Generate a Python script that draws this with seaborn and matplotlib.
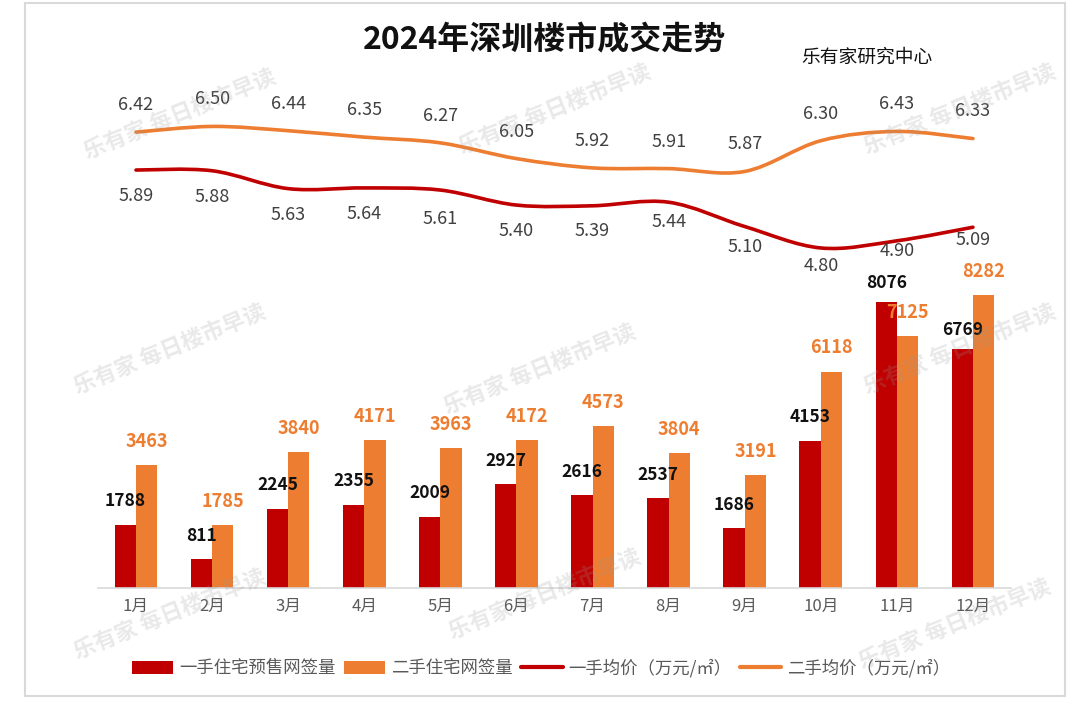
import numpy as np
import pandas as pd
import matplotlib
matplotlib.use("Agg")
import matplotlib.pyplot as plt
import seaborn as sns
from matplotlib.path import Path
from matplotlib.patches import PathPatch, Patch, Rectangle
from matplotlib.lines import Line2D

# ---------------- data ----------------
months = ['1月', '2月', '3月', '4月', '5月', '6月', '7月', '8月', '9月', '10月', '11月', '12月']
new_sales = [1788, 811, 2245, 2355, 2009, 2927, 2616, 2537, 1686, 4153, 8076, 6769]
resale_sales = [3463, 1785, 3840, 4171, 3963, 4172, 4573, 3804, 3191, 6118, 7125, 8282]
new_price = [5.89, 5.88, 5.63, 5.64, 5.61, 5.40, 5.39, 5.44, 5.10, 4.80, 4.90, 5.09]
resale_price = [6.42, 6.50, 6.44, 6.35, 6.27, 6.05, 5.92, 5.91, 5.87, 6.30, 6.43, 6.33]

bar_names = ['一手住宅预售网签量', '二手住宅网签量']
line_names = ['一手均价（万元/㎡）', '二手均价（万元/㎡）']
title = '2024年深圳楼市成交走势'
source = '乐有家研究中心'
watermark = '乐有家 每日楼市早读'

# label placement (style, in points)
new_price_lbl_off = [-19, -19, -19, -19, -21, -19, -18, -14, -15, -13, -7, -9]
new_sales_lbl_off = [17, 17, 17, 17, 17, 17, 17, 17, 17, 17, 14, 13]

RED = '#c00000'
ORANGE = '#ed7d31'

sns.set_theme(style='white')
plt.rcParams['font.family'] = ['Noto Sans CJK SC', 'DejaVu Sans']

df = pd.DataFrame({
    'month': months * 2,
    'series': [bar_names[0]] * 12 + [bar_names[1]] * 12,
    'value': new_sales + resale_sales,
})

fig = plt.figure(figsize=(10.8, 7.1), dpi=100)
fig.patch.set_facecolor('white')

ax = fig.add_axes([0.0907, 0.1718, 0.8454, 0.7296])
sns.barplot(data=df, x='month', y='value', hue='series', order=months,
            hue_order=bar_names, palette=[RED, ORANGE], width=0.56,
            saturation=1, legend=False, linewidth=0, ax=ax)
ax.set_xlim(-0.5, 11.5)
ax.set_ylim(0, 14641)
ax.set_xlabel('')
ax.set_ylabel('')
ax.set_yticks([])
for s in ['top', 'right', 'left']:
    ax.spines[s].set_visible(False)
ax.spines['bottom'].set_color('#d9d9d9')
ax.spines['bottom'].set_linewidth(1.2)
ax.tick_params(axis='x', which='major', length=0, pad=7, labelsize=12, labelcolor='#595959')
ax.set_xticks(np.arange(-0.5, 12, 1), minor=True)
ax.tick_params(axis='x', which='minor', length=5, width=1, color='#d9d9d9')

# bar labels
red_bars, orange_bars = ax.containers[0], ax.containers[1]
for bar, off in zip(red_bars, new_sales_lbl_off):
    h = bar.get_height()
    ax.annotate(f'{int(round(h))}', (bar.get_x() + bar.get_width() / 2, h),
                xytext=(0, off), textcoords='offset points', ha='center', va='center',
                fontsize=12.5, fontweight='bold', color='#111111', zorder=6)
for bar in orange_bars:
    h = bar.get_height()
    ax.annotate(f'{int(round(h))}', (bar.get_x() + bar.get_width() / 2, h),
                xytext=(0, 17), textcoords='offset points', ha='center', va='center',
                fontsize=13, fontweight='bold', color=ORANGE, zorder=6)

# lines
ax2 = ax.twinx()
ax2.set_ylim(0.044, 7.289)
ax2.set_xlim(-0.5, 11.5)
ax2.set_yticks([])
ax2.grid(False)
for s in ['top', 'right', 'left', 'bottom']:
    ax2.spines[s].set_visible(False)


def smooth_path(xs, ys):
    pts = np.column_stack([xs, ys]).astype(float)
    n = len(pts)
    verts = [pts[0]]
    codes = [Path.MOVETO]
    for i in range(n - 1):
        p0 = pts[i - 1] if i > 0 else pts[i]
        p1 = pts[i]
        p2 = pts[i + 1]
        p3 = pts[i + 2] if i + 2 < n else pts[i + 1]
        c1 = p1 + (p2 - p0) / 6.0
        c2 = p2 - (p3 - p1) / 6.0
        verts += [c1, c2, p2]
        codes += [Path.CURVE4] * 3
    return Path(verts, codes)


xs = np.arange(len(months))
for vals, col, offs in [(new_price, RED, new_price_lbl_off),
                        (resale_price, ORANGE, [19.5] * len(resale_price))]:
    path = smooth_path(xs, vals)
    ax2.add_patch(PathPatch(path, fill=False, edgecolor=col, lw=2.6,
                            capstyle='round', joinstyle='round', zorder=4))
    for x, v, off in zip(xs, vals, offs):
        ax2.annotate(f'{v:.2f}', (x, v), xytext=(0, off), textcoords='offset points',
                     ha='center', va='center', fontsize=13, color='#404040', zorder=6)

# titles
fig.text(0.504, 0.9437, title, ha='center', va='center', fontsize=23,
         fontweight='bold', color='#111111')
fig.text(0.803, 0.9197, source, ha='center', va='center', fontsize=13.5, color='#111111')

# legend
handles = [Patch(facecolor=RED, edgecolor='none'),
           Patch(facecolor=ORANGE, edgecolor='none'),
           Line2D([0], [0], color=RED, lw=3),
           Line2D([0], [0], color=ORANGE, lw=3)]
fig.legend(handles, bar_names + line_names, loc='center', bbox_to_anchor=(0.501, 0.059),
           ncol=4, frameon=False, fontsize=12.5, handlelength=2.4, handleheight=0.8,
           handletextpad=0.35, columnspacing=0.45, labelcolor='#595959')

# frame
fig.patches.append(Rectangle((0.0231, 0.0197), 0.9630, 0.9761, transform=fig.transFigure,
                             fill=False, edgecolor='#d9d9d9', lw=1.5, zorder=0))

# watermarks
wm_pos = [(180, 115), (555, 110), (960, 110),
          (170, 350), (540, 370), (960, 350),
          (170, 615), (545, 595), (955, 625)]
for px, py in wm_pos:
    fig.text(px / 1080, 1 - py / 710, watermark, ha='center', va='center', rotation=22,
             fontsize=16, fontweight='bold', color='#999999', alpha=0.22, zorder=10)

fig.savefig('out.png', dpi=100, facecolor='white')
